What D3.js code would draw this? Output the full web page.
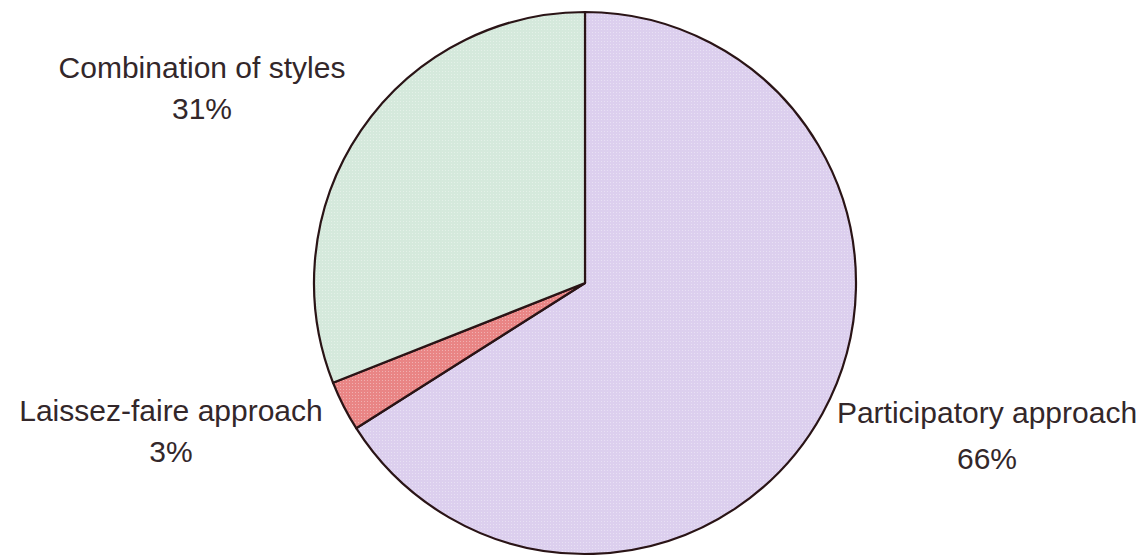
<!DOCTYPE html>
<html>
<head>
<meta charset="utf-8">
<script src="https://cdn.jsdelivr.net/npm/d3@7"></script>
<style>
  html, body { margin: 0; padding: 0; background: #ffffff; }
  svg { display: block; }
  .lbl { font-family: "Liberation Sans", Arial, sans-serif; font-size: 30px; fill: #33272a; }
</style>
</head>
<body>
<svg id="chart" width="1148" height="556"></svg>
<script>
// Leadership style shares (percent)
const categories = ["Participatory approach", "Laissez-faire approach", "Combination of styles"];
const values = [66, 3, 31];
const percentLabels = ["66%", "3%", "31%"];
const colors = ["#dccfee", "#e98585", "#d5e9dc"];

const width = 1148, height = 556;
const cx = 585, cy = 283, radius = 271;

const svg = d3.select("#chart");

// Fine dotted texture over each slice colour
const defs = svg.append("defs");
colors.forEach((c, i) => {
  const p = defs.append("pattern")
    .attr("id", "tex" + i)
    .attr("width", 3).attr("height", 3)
    .attr("patternUnits", "userSpaceOnUse");
  p.append("rect").attr("width", 3).attr("height", 3).attr("fill", c);
  p.append("rect").attr("x", 1).attr("y", 1).attr("width", 1).attr("height", 1)
    .attr("fill", "#ffffff").attr("opacity", 0.35);
});

const pie = d3.pie().sort(null).value(d => d.value);
const arcs = pie(categories.map((k, i) => ({ key: k, value: values[i], idx: i })));
const arc = d3.arc().innerRadius(0).outerRadius(radius);

const g = svg.append("g").attr("transform", `translate(${cx},${cy})`);
g.selectAll("path")
  .data(arcs)
  .join("path")
  .attr("d", arc)
  .attr("fill", d => `url(#tex${d.data.idx})`)
  .attr("stroke", "#2a1416")
  .attr("stroke-width", 2.2)
  .attr("stroke-linejoin", "round");

// Label anchors: name line baseline, then percent line baseline
const labelPos = [
  { x: 987, y: 423, y2: 469 },
  { x: 171, y: 421, y2: 462 },
  { x: 202, y: 78, y2: 119 }
];

const lg = svg.append("g");
arcs.forEach((d, i) => {
  const pos = labelPos[i];
  lg.append("text").attr("class", "lbl")
    .attr("x", pos.x).attr("y", pos.y)
    .attr("text-anchor", "middle")
    .text(d.data.key);
  lg.append("text").attr("class", "lbl")
    .attr("x", pos.x).attr("y", pos.y2)
    .attr("text-anchor", "middle")
    .text(percentLabels[i]);
});
</script>
</body>
</html>
